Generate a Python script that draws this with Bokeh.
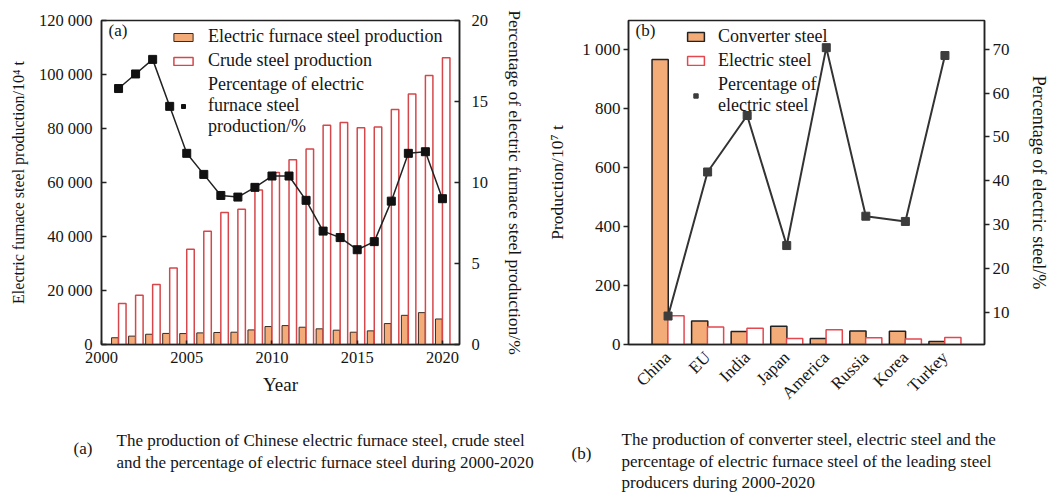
import numpy as np
from bokeh.plotting import figure
from bokeh.models import (Range1d, LinearAxis, Legend, LegendItem, Label, FixedTicker,
                          CustomJSTickFormatter, ColumnDataSource)
from bokeh.transform import dodge
from bokeh.layouts import row, column
from bokeh.embed import file_html
from bokeh.resources import INLINE
from bokeh.core.properties import value

# ---------------- data (a) : China 2001-2020 ----------------
years = [2001, 2002, 2003, 2004, 2005, 2006, 2007, 2008, 2009, 2010,
         2011, 2012, 2013, 2014, 2015, 2016, 2017, 2018, 2019, 2020]
eaf_production = [2500, 3100, 3800, 4100, 4050, 4300, 4450, 4550, 5400, 6650,
                  7000, 6400, 5800, 5300, 4550, 5050, 7750, 10800, 11800, 9450]
crude_production = [15200, 18200, 22200, 28300, 35300, 41900, 48900, 50100, 57200, 63700,
                    68400, 72400, 81200, 82200, 80300, 80600, 87000, 92800, 99600, 106200]
eaf_percentage = [15.8, 16.7, 17.6, 14.7, 11.8, 10.5, 9.2, 9.1, 9.7, 10.4,
                  10.4, 8.9, 7.0, 6.6, 5.85, 6.35, 8.85, 11.8, 11.9, 9.0]

# ---------------- data (b) : leading producers ----------------
producers = ["China", "EU", "India", "Japan", "America", "Russia", "Korea", "Turkey"]
converter_steel = [968, 80, 44, 62, 20, 46, 45, 10]
electric_steel = [98, 59, 55, 20, 50, 23, 19, 24]
electric_percentage = [9.1, 42.0, 54.9, 25.2, 70.4, 31.9, 30.7, 68.6]

# ---------------- ticks ----------------
year_ticks = [2000, 2005, 2010, 2015, 2020]
prod_ticks_a = [0, 20000, 40000, 60000, 80000, 100000, 120000]
pct_ticks_a = [0, 5, 10, 15, 20]
prod_ticks_b = [0, 200, 400, 600, 800, 1000]
pct_ticks_b = [10, 20, 30, 40, 50, 60, 70]

# ---------------- captions ----------------
caption_a = ["The production of Chinese electric furnace steel, crude steel",
             "and the percentage of electric furnace steel during 2000-2020"]
caption_b = ["The production of converter steel, electric steel and the",
             "percentage of electric furnace steel of the leading steel",
             "producers during 2000-2020"]

FONT = "Liberation Serif"
ORANGE = "#F3AB78"
RED_A = "#D5474A"
RED_B = "#E5474F"
INK = "#151515"

thousands_code = r"return Math.round(tick).toString().replace(/\B(?=(\d{3})+(?!\d))/g, ' ');"


def style_axis(ax, size, label_size):
    ax.axis_line_color = "#222222"
    ax.axis_line_width = 1.5
    ax.major_tick_line_color = "#222222"
    ax.major_tick_line_width = 1.5
    ax.minor_tick_line_color = None
    ax.major_label_text_font = FONT
    ax.major_label_text_font_size = size
    ax.major_label_text_color = INK
    ax.axis_label_text_font = FONT
    ax.axis_label_text_font_size = label_size
    ax.axis_label_text_font_style = "normal"
    ax.axis_label_text_color = INK


def style_legend(leg, gw, gh, standoff):
    leg.background_fill_alpha = 0
    leg.border_line_alpha = 0
    leg.label_text_font = FONT
    leg.label_text_font_size = "18px"
    leg.label_text_color = INK
    leg.label_text_line_height = 1.22
    leg.glyph_width = gw
    leg.glyph_height = gh
    leg.label_standoff = standoff
    leg.padding = 0
    leg.margin = 0
    leg.spacing = 3
    leg.label_height = 21


def label(p, x, y, text, size, units="screen"):
    p.add_layout(Label(x=x, y=y, x_units=units, y_units=units, text=text,
                       text_font=FONT, text_font_size=size, text_color=INK,
                       text_baseline="middle", text_align="left"))


TOP_H = 415

# ======================= figure (a) =======================
src_a = ColumnDataSource(dict(year=years, eaf=eaf_production, crude=crude_production,
                              pct=eaf_percentage))

pA = figure(width=538, height=TOP_H, x_range=Range1d(2000, 2021), y_range=Range1d(0, 120000),
            output_backend="svg", toolbar_location=None,
            min_border_left=101, min_border_right=79, min_border_top=19,
            min_border_bottom=TOP_H - 19 - 325,
            background_fill_color="white", border_fill_color="white",
            outline_line_color="#222222", outline_line_width=1.5)
pA.grid.visible = False
pA.extra_y_ranges = {"pct": Range1d(0, 20)}

ra1 = pA.vbar(x=dodge("year", -0.21), top="eaf", width=0.4, source=src_a,
              fill_color=ORANGE, line_color="#3a2a20", line_width=1)
ra2 = pA.vbar(x=dodge("year", 0.22), top="crude", width=0.44, source=src_a,
              fill_color="white", line_color=RED_A, line_width=1.5)
pA.line("year", "pct", source=src_a, y_range_name="pct", line_color="#222222", line_width=1.5)
ra3 = pA.scatter("year", "pct", source=src_a, y_range_name="pct", marker="square", size=8,
                 fill_color="#111111", line_color="#111111")

xa = pA.xaxis[0]
xa.ticker = FixedTicker(ticks=year_ticks)
xa.axis_label = "Year"
style_axis(xa, "16.5px", "19px")
xa.major_tick_in = 4
xa.major_tick_out = 0
xa.major_label_standoff = 7
xa.axis_label_standoff = 8

ya = pA.yaxis[0]
ya.ticker = FixedTicker(ticks=prod_ticks_a)
ya.formatter = CustomJSTickFormatter(code=thousands_code)
ya.axis_label = "Electric furnace steel production/10\u2074 t"
style_axis(ya, "16.5px", "16px")
ya.major_tick_in = 5
ya.major_tick_out = 0
ya.major_label_standoff = 9
ya.axis_label_standoff = 9

ra_axis = LinearAxis(y_range_name="pct", ticker=FixedTicker(ticks=pct_ticks_a),
                     axis_label="Percentage of electric furnace steel production/%")
style_axis(ra_axis, "16.5px", "17.5px")
ra_axis.major_tick_in = 5
ra_axis.major_tick_out = 0
ra_axis.major_label_standoff = 12
ra_axis.axis_label_standoff = 14
pA.add_layout(ra_axis, "right")

legA = Legend(items=[
    LegendItem(label=value("Electric furnace steel production"), renderers=[ra1]),
    LegendItem(label=value("Crude steel production"), renderers=[ra2]),
    LegendItem(label=value("Percentage of electric\nfurnace steel\nproduction/%"), renderers=[ra3]),
], location=(70, 207))
style_legend(legA, 24, 10, 13)
pA.add_layout(legA)

label(pA, 7, 314, "(a)", "17px")

# ======================= figure (b) =======================
xs = list(range(1, len(producers) + 1))
src_b = ColumnDataSource(dict(x=xs, conv=converter_steel, elec=electric_steel,
                              pct=electric_percentage))

pB = figure(width=513, height=TOP_H, x_range=Range1d(0, len(producers) + 1), y_range=Range1d(0, 1100),
            output_backend="svg", toolbar_location=None,
            min_border_left=90, min_border_right=60, min_border_top=20,
            min_border_bottom=TOP_H - 20 - 324,
            background_fill_color="white", border_fill_color="white",
            outline_line_color="#222222", outline_line_width=1.5)
pB.grid.visible = False
pB.extra_y_ranges = {"pct": Range1d(2.6, 76.6)}

rb1 = pB.vbar(x=dodge("x", -0.2), top="conv", width=0.41, source=src_b,
              fill_color=ORANGE, line_color="#222222", line_width=1.5)
rb2 = pB.vbar(x=dodge("x", 0.2), top="elec", width=0.41, source=src_b,
              fill_color="white", line_color=RED_B, line_width=1.5)
pB.line("x", "pct", source=src_b, y_range_name="pct", line_color="#333333", line_width=2)
rb3 = pB.scatter("x", "pct", source=src_b, y_range_name="pct", marker="square", size=8,
                 fill_color="#3c3c3c", line_color="#3c3c3c")

xb = pB.xaxis[0]
xb.ticker = FixedTicker(ticks=xs)
xb.major_label_overrides = {x: name for x, name in zip(xs, producers)}
xb.major_label_orientation = np.pi / 4
style_axis(xb, "17px", "16px")
xb.major_tick_in = 0
xb.major_tick_out = 0
xb.major_label_standoff = 10

yb = pB.yaxis[0]
yb.ticker = FixedTicker(ticks=prod_ticks_b)
yb.formatter = CustomJSTickFormatter(code=thousands_code)
yb.axis_label = "Production/10\u2077 t"
style_axis(yb, "17px", "17.5px")
yb.major_tick_in = 0
yb.major_tick_out = 5
yb.major_label_standoff = 3
yb.axis_label_standoff = 12

rb_axis = LinearAxis(y_range_name="pct", ticker=FixedTicker(ticks=pct_ticks_b),
                     axis_label="Percentage of electric steel/%")
style_axis(rb_axis, "17px", "18px")
rb_axis.major_tick_in = 0
rb_axis.major_tick_out = 5
rb_axis.major_label_standoff = 3
rb_axis.axis_label_standoff = 16
pB.add_layout(rb_axis, "right")

legB = Legend(items=[
    LegendItem(label=value("Converter steel"), renderers=[rb1]),
    LegendItem(label=value("Electric steel"), renderers=[rb2]),
    LegendItem(label=value("Percentage of\nelectric steel"), renderers=[rb3]),
], location=(57, 228))
style_legend(legB, 21, 11, 12)
pB.add_layout(legB)

label(pB, 7, 314, "(b)", "17px")

# ======================= captions =======================
CAP_W, CAP_H = 1051, 77
pC = figure(width=CAP_W, height=CAP_H, x_range=Range1d(0, CAP_W), y_range=Range1d(CAP_H, 0),
            output_backend="svg", toolbar_location=None, min_border=0,
            x_axis_location=None, y_axis_location=None,
            background_fill_color="white", border_fill_color="white", outline_line_color=None)
pC.grid.visible = False

label(pC, 73, 33, "(a)", "17px", "data")
for i, line in enumerate(caption_a):
    label(pC, 116, 25 + 22 * i, line, "17px", "data")
label(pC, 571, 38, "(b)", "17px", "data")
for i, line in enumerate(caption_b):
    label(pC, 621, 24 + 21.5 * i, line, "17px", "data")

layout = column(row(pA, pB), pC)
open("out.html", "w").write(file_html(layout, INLINE))
